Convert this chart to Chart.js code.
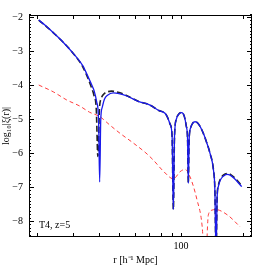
<!DOCTYPE html>
<html>
<head>
<meta charset="utf-8">
<script src="https://cdn.jsdelivr.net/npm/chart.js@4/dist/chart.umd.min.js"></script>
<style>
  html, body { margin: 0; padding: 0; background: #fff; }
</style>
</head>
<body>
<canvas id="xi" width="266" height="266"></canvas>
<script>
// DATA
const blueR = [20.4, 22, 24, 26.8, 30, 33.6, 34.2, 36.9, 37.8, 39, 39.8, 40.3, 40.8, 41.5, 42.5, 44, 46.9, 50, 55, 62, 70.7, 78, 83.6, 86, 88.5, 90.5, 91.8, 93, 95, 98, 100.8, 103.5, 106, 107.6, 108.5, 109.5, 111.5, 114, 117, 121, 128.3, 133, 138.3, 143.7, 146, 147.9, 149.7, 151.7, 155, 160.4, 167, 173, 185, 197];
const blueY = [-2.09, -2.25, -2.46, -2.74, -3.07, -3.46, -3.56, -4.0, -4.15, -4.5, -5.0, -6.85, -5.0, -4.65, -4.42, -4.3, -4.23, -4.25, -4.33, -4.48, -4.59, -4.75, -4.83, -4.95, -5.15, -5.5, -7.66, -5.5, -5.0, -4.84, -4.81, -4.9, -5.2, -5.6, -6.89, -5.6, -5.25, -5.12, -5.08, -5.13, -5.42, -5.68, -6.01, -6.5, -7.1, -9.0, -7.3, -6.99, -6.8, -6.68, -6.63, -6.65, -6.8, -6.99];

const blackR = [20.4, 24, 30, 33.6, 36.9, 37.8, 38.8, 39.5, 40.2, 41, 42.5, 44, 46, 50, 55, 62, 70.7, 78, 83.6, 86, 88.5, 90.5, 91.8, 93, 95, 98, 100.8, 103.5, 106, 107.6, 108.5, 109.5, 111.5, 114, 117, 121, 128.3, 133, 138.3, 143.7, 146, 147.9, 149.7, 151.7, 155, 160.4, 167, 173, 185, 197];
const blackY = [-2.09, -2.46, -3.07, -3.5, -4.1, -4.3, -4.7, -6.1, -4.7, -4.4, -4.25, -4.2, -4.18, -4.22, -4.32, -4.48, -4.59, -4.75, -4.83, -4.95, -5.15, -5.5, -7.66, -5.5, -5.0, -4.84, -4.81, -4.9, -5.2, -5.6, -6.89, -5.6, -5.25, -5.12, -5.08, -5.13, -5.42, -5.68, -6.01, -6.5, -7.1, -9.0, -7.3, -6.96, -6.77, -6.65, -6.6, -6.62, -6.77, -6.96];

const redR = [20.4, 24, 27.9, 32.3, 36, 40.4, 45, 50.6, 58.5, 67.6, 73.2, 82.6, 91.9, 98.9, 104.6, 110.6, 119.6, 126.7, 131, 135.7, 141.2, 146.7, 167.9, 193.5];
const redY = [-4.0, -4.2, -4.44, -4.62, -4.8, -4.93, -5.17, -5.42, -5.7, -6.0, -6.2, -6.55, -6.76, -6.55, -6.48, -6.7, -7.38, -8.17, -9.5, -7.82, -7.68, -7.66, -7.82, -8.17];

const xTicks = [20, 30, 40, 50, 60, 70, 80, 90, 100, 200];
const xLabelled = [100];
const yTicks = [-8, -7, -6, -5, -4, -3, -2];

const FONT = "'Liberation Serif', serif";

function pts(rs, ys) {
  return rs.map((r, i) => ({ x: r, y: ys[i] }));
}

function minus(v) {
  return v < 0 ? "\u2212" + Math.abs(v) : String(v);
}

// inward ticks on all four sides + frame + label
const frameTicks = {
  id: "frameTicks",
  afterDraw(chart) {
    const { ctx, chartArea: a, scales } = chart;
    const x = scales.x, y = scales.y;
    ctx.save();
    ctx.strokeStyle = "#000";
    ctx.lineWidth = 1;
    ctx.strokeRect(a.left + 0.5, a.top + 0.5, a.right - a.left - 1, a.bottom - a.top - 1);
    ctx.beginPath();
    xTicks.forEach(v => {
      const px = Math.round(x.getPixelForValue(v)) + 0.5;
      ctx.moveTo(px, a.bottom);
      ctx.lineTo(px, a.bottom - 4);
      ctx.moveTo(px, a.top);
      ctx.lineTo(px, a.top + 4);
    });
    for (let k = -84; k <= -19; k++) {
      const v = k / 10;
      const py = Math.round(y.getPixelForValue(v)) + 0.5;
      const len = k % 10 === 0 ? 5 : 2;
      ctx.moveTo(a.left, py);
      ctx.lineTo(a.left + len, py);
      ctx.moveTo(a.right, py);
      ctx.lineTo(a.right - len, py);
    }
    ctx.stroke();
    ctx.fillStyle = "#000";
    ctx.font = "10px " + FONT;
    ctx.textBaseline = "middle";
    ctx.fillText("T4, z=5", a.left + 10, a.bottom - 12);
    ctx.restore();
  },
};

new Chart(document.getElementById("xi").getContext("2d"), {
  type: "line",
  data: {
    datasets: [
      {
        label: "model",
        data: pts(blueR, blueY),
        borderColor: "rgb(25,25,235)",
        borderWidth: 1.3,
      },
      {
        label: "black",
        data: pts(blackR, blackY),
        borderColor: "#222",
        borderWidth: 1.6,
        borderDash: [6, 3],
      },
      {
        label: "linear",
        data: pts(redR, redY),
        borderColor: "rgb(255,60,60)",
        borderWidth: 1,
        borderDash: [4, 3],
      },
    ],
  },
  options: {
    responsive: false,
    animation: false,
    parsing: false,
    layout: { padding: { top: 15, right: 14, left: 0, bottom: 0 } },
    elements: {
      point: { radius: 0 },
      line: { cubicInterpolationMode: "monotone", fill: false },
    },
    plugins: { legend: { display: false }, tooltip: { enabled: false } },
    scales: {
      x: {
        type: "logarithmic",
        min: 18.3,
        max: 221,
        afterBuildTicks: s => { s.ticks = xTicks.map(v => ({ value: v })); },
        afterFit: s => { s.height = 29; },
        grid: { display: false, drawTicks: false },
        border: { display: false },
        ticks: {
          autoSkip: false,
          maxRotation: 0,
          padding: 3,
          color: "#000",
          font: { family: FONT, size: 10 },
          callback: v => (xLabelled.includes(v) ? String(v) : ""),
        },
        title: {
          display: true,
          text: "r [h\u207B\u00B9 Mpc]    ",
          color: "#000",
          font: { family: FONT, size: 10 },
          padding: { top: 0, bottom: 0 },
        },
      },
      y: {
        min: -8.47,
        max: -1.94,
        afterBuildTicks: s => { s.ticks = yTicks.map(v => ({ value: v })); },
        afterFit: s => { s.width = 29; },
        grid: { display: false, drawTicks: false },
        border: { display: false },
        ticks: {
          padding: 6,
          color: "#000",
          font: { family: FONT, size: 10 },
          callback: v => minus(v),
        },
        title: {
          display: true,
          text: "log\u2081\u2080|\u03BE(r)|",
          color: "#000",
          font: { family: FONT, size: 10 },
          padding: { top: 0, bottom: 0 },
        },
      },
    },
  },
  plugins: [frameTicks],
});
</script>
</body>
</html>
